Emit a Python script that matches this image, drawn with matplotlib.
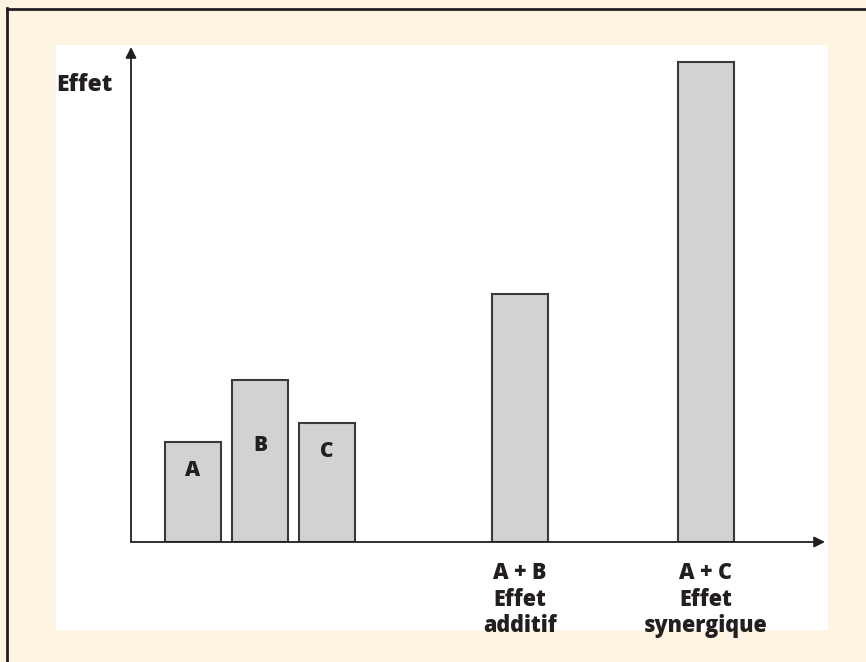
import matplotlib
matplotlib.use("Agg")
from matplotlib import pyplot as plt
from matplotlib.patches import Rectangle
from matplotlib.lines import Line2D

# data (effect heights)
bar_names = ["A", "B", "C", "A + B", "A + C"]
bar_values = [100, 162, 119, 248, 480]
inner_labels = ["A", "B", "C", "", ""]
bottom_labels = ["", "", "", "A + B\nEffet\nadditif", "A + C\nEffet\nsynergique"]
y_title = "Effet"

# layout (pixel-like units along the axes)
bar_x = [62, 129, 196, 389, 575]
bar_width = 56
inner_label_y = [71, 96, 90, 0, 0]
x_max = 694
y_max = 495

W, H = 866, 662
cream = "#fdf5e1"
ink = "#231f20"
font = "Open Sans"
weight = "extra bold"

fig = plt.figure(figsize=(W / 100, H / 100), dpi=100, facecolor=cream)

# white panel
fig.patches.append(Rectangle((56 / W, 1 - 630 / H), (828 - 56) / W, (630 - 45) / H,
                             transform=fig.transFigure, facecolor="white",
                             edgecolor="none", zorder=-5))
# frame lines on left and top
fig.lines.append(Line2D([7.5 / W, 7.5 / W], [0, 1 - 8 / H], transform=fig.transFigure,
                        color=ink, lw=2, zorder=-4))
fig.lines.append(Line2D([7.5 / W, 1], [1 - 8.5 / H, 1 - 8.5 / H], transform=fig.transFigure,
                        color=ink, lw=2, zorder=-4))

ax = fig.add_axes([131 / W, 1 - 542 / H, x_max / W, y_max / H])
ax.set_xlim(0, x_max)
ax.set_ylim(0, y_max)
ax.patch.set_visible(False)
for s in ax.spines.values():
    s.set_visible(False)
ax.set_xticks([])
ax.set_yticks([])

ax.bar(bar_x, bar_values, width=bar_width, color="#d1d2d4", edgecolor="#3a3a3a",
       linewidth=1.5, zorder=2)

# axes arrows
arrow = dict(arrowstyle="-|>", color=ink, lw=1.3, mutation_scale=16,
             shrinkA=0, shrinkB=0)
ax.annotate("", xy=(x_max, 0), xytext=(0, 0), arrowprops=arrow, annotation_clip=False)
ax.annotate("", xy=(0, y_max), xytext=(0, 0), arrowprops=arrow, annotation_clip=False)

for x, lab, y in zip(bar_x, inner_labels, inner_label_y):
    if lab:
        ax.text(x, y, lab, ha="center", va="center", fontsize=15,
                fontweight=weight, family=font, color=ink)

for x, lab in zip(bar_x, bottom_labels):
    if lab:
        ax.text(x, -19, lab, ha="center", va="top", fontsize=15.5,
                fontweight=weight, family=font, color=ink, linespacing=1.14)

ax.text(-75, 457, y_title, ha="left", va="center", fontsize=16.5,
        fontweight=weight, family=font, color=ink)

fig.savefig("out.png", dpi=100, facecolor=cream)
